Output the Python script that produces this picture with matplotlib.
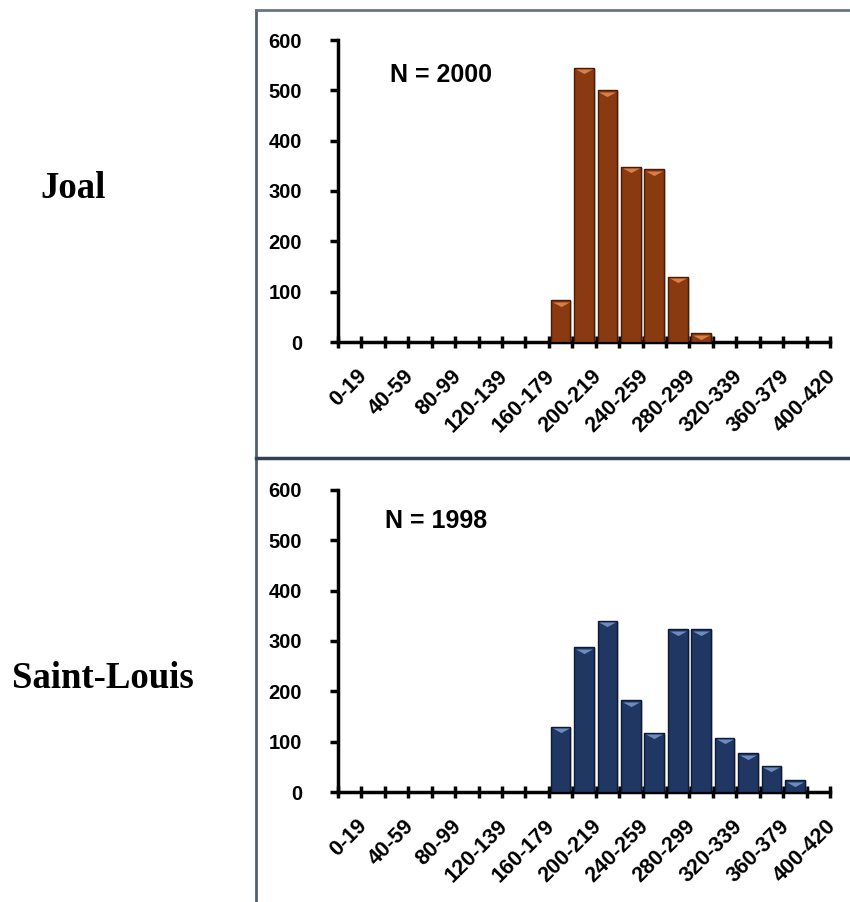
import matplotlib
matplotlib.use("Agg")
import matplotlib.pyplot as plt
import matplotlib.transforms as mtransforms
from matplotlib.font_manager import FontProperties
from matplotlib.lines import Line2D
import numpy as np

# size classes (every other label is shown on the axis)
classes = ['0-19', '20-39', '40-59', '60-79', '80-99', '100-119', '120-139',
           '140-159', '160-179', '180-199', '200-219', '220-239', '240-259',
           '260-279', '280-299', '300-319', '320-339', '340-359', '360-379',
           '380-399', '400-420']

joal = [0, 0, 0, 0, 0, 0, 0, 0, 0, 83, 545, 500, 348, 343, 130, 17,
        0, 0, 0, 0, 0]
saint_louis = [0, 0, 0, 0, 0, 0, 0, 0, 0, 130, 288, 340, 182, 118, 323, 323,
               108, 77, 52, 23, 0]

sites = ['Joal', 'Saint-Louis']
counts = ['N = 2000', 'N = 1998']

W, H = 850, 902
fig = plt.figure(figsize=(W / 100, H / 100), dpi=100)

tick_fp = FontProperties(family='Liberation Sans', weight='bold', size=14.5)
xlab_fp = FontProperties(family='Liberation Sans', weight='bold', size=15.5)
bevel = [(-1, 0), (1, 0), (0, -0.55), (-1, 0)]


def draw_panel(rect, values, face, edge, light, ntext, ntext_xy):
    ax = fig.add_axes(rect)
    x = np.arange(len(classes))
    vals = np.array(values)
    # soft shadow
    sh = mtransforms.ScaledTranslation(2 / 100, -1 / 100, fig.dpi_scale_trans)
    ax.bar(x, vals, width=0.84, color='#9a9a9a', alpha=0.45, linewidth=0,
           transform=ax.transData + sh, zorder=2)
    ax.bar(x, vals, width=0.84, color=face, edgecolor=edge, linewidth=1.0,
           zorder=3)
    # lighter bevel triangle at top of each bar
    m = vals > 0
    off = mtransforms.ScaledTranslation(0, -1.5 / 100, fig.dpi_scale_trans)
    ax.plot(x[m], vals[m], linestyle='none', marker=bevel, markersize=12,
            color=light, markeredgewidth=0, alpha=0.85,
            transform=ax.transData + off, zorder=4)

    ax.set_xlim(-0.5, len(classes) - 0.5)
    ax.set_ylim(0, 600)
    ax.set_yticks(range(0, 601, 100))
    ax.set_xticks(x[::2])
    ax.set_xticks(np.arange(-0.5, len(classes)), minor=True)
    ax.tick_params(axis='x', which='major', length=0, pad=17)
    ax.tick_params(axis='x', which='minor', direction='inout', length=8,
                   width=2.5)
    ax.tick_params(axis='y', direction='out', length=6, width=2.5, pad=20)
    ax.set_xticklabels(classes[::2], rotation=45, ha='right',
                       rotation_mode='anchor')
    shift = mtransforms.ScaledTranslation(7 / 100, 0, fig.dpi_scale_trans)
    for lab in ax.get_xticklabels():
        lab.set_fontproperties(xlab_fp)
        lab.set_transform(lab.get_transform() + shift)
    for lab in ax.get_yticklabels():
        lab.set_fontproperties(tick_fp)
    for s in ['top', 'right']:
        ax.spines[s].set_visible(False)
    for s in ['left', 'bottom']:
        ax.spines[s].set_linewidth(2.5)
    ax.text(ntext_xy[0], ntext_xy[1], ntext, fontsize=18, fontweight='bold',
            family='Liberation Sans', va='center', ha='left')
    return ax


axw = (830 - 338) / W
axh = (342 - 40) / H
draw_panel([338 / W, 1 - 342 / H, axw, axh], joal, '#8a3a10', '#4a1c05',
           '#e98a50', counts[0], (1.7, 530))
draw_panel([338 / W, 1 - 792 / H, axw, axh], saint_louis, '#1f3762', '#0c1a35',
           '#7d9bd0', counts[1], (1.5, 538))

# row labels
fig.text(40 / W, 1 - 189 / H, sites[0], family='Liberation Serif',
         fontweight='bold', fontsize=26.5, va='center', ha='left')
fig.text(12 / W, 1 - 679 / H, sites[1], family='Liberation Serif',
         fontweight='bold', fontsize=26.5, va='center', ha='left')

# frame lines
fx = 256 / W
fig.add_artist(Line2D([fx, fx], [0, 1 - 10 / H], color='#55606e', lw=2))
fig.add_artist(Line2D([fx, 1], [1 - 10 / H, 1 - 10 / H], color='#6a7482', lw=2))
fig.add_artist(Line2D([fx, 1], [1 - 458 / H, 1 - 458 / H], color='#34405a',
                      lw=2.5))

fig.savefig('out.png', dpi=100)
